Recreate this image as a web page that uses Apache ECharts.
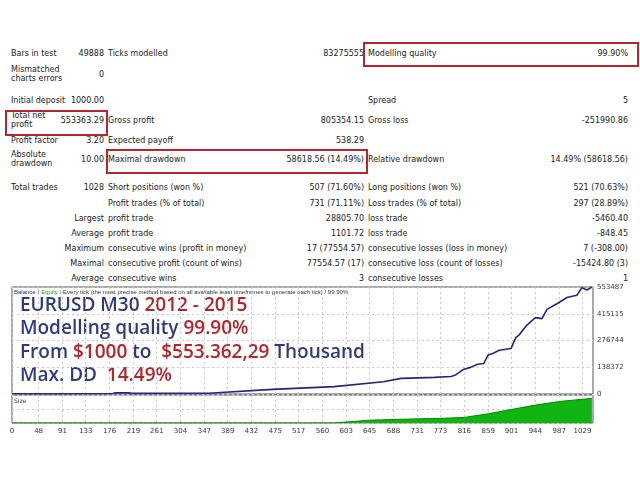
<!DOCTYPE html>
<html><head><meta charset="utf-8">
<script src="https://cdn.jsdelivr.net/npm/echarts@6/dist/echarts.min.js"></script>
<style>
body{margin:0;width:640px;height:480px;background:#fff;font-family:Tahoma,"DejaVu Sans",sans-serif;font-size:8px;color:#222;position:relative;overflow:hidden}
.t{position:absolute;white-space:nowrap;line-height:9px}
.r{text-align:right}
.box{position:absolute;border:2px solid #b3262e}
#chart{position:absolute;left:0;top:280px;width:640px;height:160px}
</style></head><body>
<div id="tbl"></div>
<div class="box" style="left:363px;top:42px;width:272px;height:21px"></div>
<div class="box" style="left:5px;top:110px;width:99px;height:22px"></div>
<div class="box" style="left:106px;top:149px;width:258px;height:21px"></div>
<div id="chart"></div>
<script>
// report rows: [y, label1, value1, label2, value2, label3, value3]
var reportRows = [
  [53, 'Bars in test', '49888', 'Ticks modelled', '83275555', 'Modelling quality', '99.90%'],
  [74, 'Mismatched<br>charts errors', '0', '', '', '', ''],
  [100, 'Initial deposit', '1000.00', '', '', 'Spread', '5'],
  [120, 'Total net<br>profit', '553363.29', 'Gross profit', '805354.15', 'Gross loss', '-251990.86'],
  [140, 'Profit factor', '3.20', 'Expected payoff', '538.29', '', ''],
  [159, 'Absolute<br>drawdown', '10.00', 'Maximal drawdown', '58618.56 (14.49%)', 'Relative drawdown', '14.49% (58618.56)'],
  [187, 'Total trades', '1028', 'Short positions (won %)', '507 (71.60%)', 'Long positions (won %)', '521 (70.63%)'],
  [203, '', '', 'Profit trades (% of total)', '731 (71.11%)', 'Loss trades (% of total)', '297 (28.89%)'],
  [218, '', 'Largest', 'profit trade', '28805.70', 'loss trade', '-5460.40'],
  [233, '', 'Average', 'profit trade', '1101.72', 'loss trade', '-848.45'],
  [248, '', 'Maximum', 'consecutive wins (profit in money)', '17 (77554.57)', 'consecutive losses (loss in money)', '7 (-308.00)'],
  [263, '', 'Maximal', 'consecutive profit (count of wins)', '77554.57 (17)', 'consecutive loss (count of losses)', '-15424.80 (3)'],
  [278, '', 'Average', 'consecutive wins', '3', 'consecutive losses', '1']
];

// balance curve (trade number, balance)
var balTrades = [0, 100, 182, 186, 212, 216, 355, 358, 470, 581, 670, 702, 762, 792, 801, 813, 828, 840, 851, 859, 867, 879, 900, 909, 915, 927, 944, 956, 965, 983, 1001, 1019, 1028, 1037, 1046];
var balValues = [1000, 1500, 2500, 6000, 6000, 3000, 4000, 13500, 24000, 38000, 63000, 81000, 86000, 90600, 100000, 125000, 139000, 154000, 158000, 202000, 210000, 226000, 235000, 293000, 306000, 351000, 395000, 390000, 438000, 467000, 499000, 511000, 550000, 538000, 553000];
// lot size (trade number, size)
var sizeTrades = [0, 580, 581, 644, 714, 780, 816, 859, 900, 944, 988, 1046];
var sizeValues = [0, 0, 7, 10, 14, 17, 20, 33, 48, 64, 77, 88];

var xTickLabels = [0, 48, 91, 133, 176, 219, 261, 304, 347, 389, 432, 475, 517, 560, 603, 645, 688, 731, 773, 816, 859, 901, 944, 987, 1029];
var yMax = 553487;

var html = '';
var X = [11, 104, 108, 364, 368, 628];
reportRows.forEach(function (r) {
  var y = r[0];
  var two = r[1].indexOf('<br>') >= 0;
  var cells = [r[1], r[2], r[3], r[4], r[5], r[6]];
  cells.forEach(function (c, i) {
    if (!c) return;
    var top = (two && i === 0) ? y - 9 : y - 4;
    if (i % 2 === 0) html += '<div class="t" style="left:' + X[i] + 'px;top:' + top + 'px">' + c + '</div>';
    else html += '<div class="t r" style="right:' + (640 - X[i]) + 'px;top:' + top + 'px">' + c + '</div>';
  });
});
document.getElementById('tbl').innerHTML = html;

var cats = [];
for (var i = 0; i <= 1048; i++) cats.push(i);
var balData = balTrades.map(function (t, i) { return [t, balValues[i]]; });
var sizeData = sizeTrades.map(function (t, i) { return [t, sizeValues[i]]; });

var chart = echarts.init(document.getElementById('chart'));
var dashed = { show: true, lineStyle: { color: '#c8c8c8', type: [2, 3], width: 1 } };
function big(parts, y) {
  var st = { fontSize: 19, fontFamily: 'Open Sans', fontWeight: 600 };
  return { type: 'text', left: 20, top: y, style: { rich: { n: Object.assign({ fill: '#2f3a7e' }, st), r: Object.assign({ fill: '#b2262b' }, st) }, text: parts } };
}
function isTick(i) { return xTickLabels.indexOf(i) >= 0; }
chart.setOption({
  animation: false,
  grid: [
    { left: 12, right: 47, top: 7, height: 107, show: true, borderColor: '#555', borderWidth: 1 },
    { left: 12, right: 47, top: 115, height: 28, show: true, borderColor: '#555', borderWidth: 1 }
  ],
  xAxis: [
    { type: 'category', gridIndex: 0, data: cats, boundaryGap: false, axisLine: { show: false }, axisTick: { show: false }, axisLabel: { show: false },
      splitLine: { show: true, interval: isTick, lineStyle: dashed.lineStyle } },
    { type: 'category', gridIndex: 1, data: cats, boundaryGap: false, axisLine: { show: false },
      axisTick: { show: false },
      axisLabel: { interval: isTick, fontSize: 7, color: '#333', margin: 5, fontFamily: 'DejaVu Sans' },
      splitLine: { show: true, interval: isTick, lineStyle: dashed.lineStyle } }
  ],
  yAxis: [
    { type: 'value', gridIndex: 0, position: 'right', min: 0, max: yMax, interval: yMax / 4,
      axisLine: { show: false }, axisTick: { show: false }, splitLine: dashed,
      axisLabel: { fontSize: 7, color: '#333', margin: 4, fontFamily: 'DejaVu Sans', formatter: function (v) { return Math.round(v); } } },
    { type: 'value', gridIndex: 1, min: 0, max: 100, interval: 50, axisLine: { show: false }, axisTick: { show: false }, axisLabel: { show: false }, splitLine: dashed }
  ],
  series: [
    { type: 'line', xAxisIndex: 0, yAxisIndex: 0, data: balData, symbol: 'none', lineStyle: { color: '#1e2a78', width: 1.6 } },
    { type: 'line', xAxisIndex: 1, yAxisIndex: 1, data: sizeData, symbol: 'none', lineStyle: { color: '#008a00', width: 1 }, areaStyle: { color: '#11b511', opacity: 1 } }
  ],
  graphic: [
    { type: 'text', left: 14, top: 9, style: { fontSize: 6, fontFamily: 'DejaVu Sans', rich: { b: { fill: '#1e2a78', fontSize: 6 }, g: { fill: '#1a9a1a', fontSize: 6 }, k: { fill: '#333', fontSize: 6 } },
      text: '{b|Balance} {k|/} {g|Equity} {k|/ Every tick (the most precise method based on all available least timeframes to generate each tick) / 99.90%}' } },
    { type: 'text', left: 14, top: 118, style: { text: 'Size', fontSize: 6, fill: '#333', fontFamily: 'DejaVu Sans' } },
    big('{n|EURUSD M30 }{r|2012 - 2015}', 16),
    big('{n|Modelling quality }{r|99.90%}', 39),
    big('{n|From }{r|$1000}{n| to }{r| $553.362,29}{n| Thousand}', 63),
    big('{n|Max. DD  }{r|14.49%}', 86)
  ]
});
</script>
</body></html>
